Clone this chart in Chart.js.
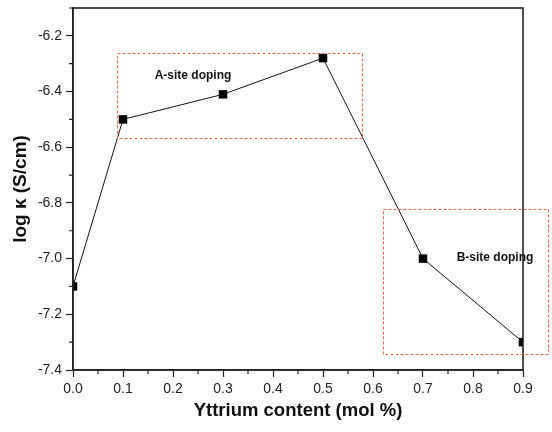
<!DOCTYPE html>
<html>
<head>
<meta charset="utf-8">
<script src="https://cdn.jsdelivr.net/npm/chart.js@4/dist/chart.umd.min.js"></script>
<style>
html,body{margin:0;padding:0;background:#fff;}
#c{display:block;}
</style>
</head>
<body>
<canvas id="c" width="552" height="432"></canvas>
<script>
// Data
const yttrium = [0.0, 0.1, 0.3, 0.5, 0.7, 0.9];
const logK = [-7.10, -6.50, -6.41, -6.28, -7.00, -7.30];
const xTicks = [0.0, 0.1, 0.2, 0.3, 0.4, 0.5, 0.6, 0.7, 0.8, 0.9];
const yTicks = [-7.4, -7.2, -7.0, -6.8, -6.6, -6.4, -6.2];
const xMinor = [0.05, 0.15, 0.25, 0.35, 0.45, 0.55, 0.65, 0.75, 0.85];
const yMinor = [-7.3, -7.1, -6.9, -6.7, -6.5, -6.3, -6.1];
// annotation boxes [x0, x1, y0, y1] in data units
const boxA = [0.088, 0.578, -6.262, -6.566];
const boxB = [0.62, 0.95, -6.821, -7.343];
const labelA = {text: 'A-site doping', x: 0.24, y: -6.343};
const labelB = {text: 'B-site doping', x: 0.844, y: -6.996};

const FONT = '"Liberation Sans", Arial, sans-serif';

const decor = {
  id: 'decor',
  afterDatasetsDraw(chart) {
    const ctx = chart.ctx, xs = chart.scales.x, ys = chart.scales.y, a = chart.chartArea;
    ctx.save();
    // frame
    ctx.strokeStyle = '#222';
    ctx.lineWidth = 1.6;
    ctx.strokeRect(a.left, a.top, a.right - a.left, a.bottom - a.top);
    // minor ticks
    ctx.lineWidth = 1.2;
    ctx.beginPath();
    xMinor.forEach(v => { const p = xs.getPixelForValue(v); ctx.moveTo(p, a.bottom); ctx.lineTo(p, a.bottom + 4); });
    yMinor.forEach(v => { const p = ys.getPixelForValue(v); ctx.moveTo(a.left, p); ctx.lineTo(a.left - 4, p); });
    ctx.stroke();
    // dashed boxes
    ctx.strokeStyle = '#f0644a';
    ctx.lineWidth = 1;
    ctx.setLineDash([3, 2]);
    [boxA, boxB].forEach(b => {
      const x0 = xs.getPixelForValue(b[0]), x1 = xs.getPixelForValue(b[1]);
      const y0 = ys.getPixelForValue(b[2]), y1 = ys.getPixelForValue(b[3]);
      ctx.strokeRect(Math.round(x0) + 0.5, Math.round(y0) + 0.5, Math.round(x1 - x0), Math.round(y1 - y0));
    });
    ctx.setLineDash([]);
    // labels
    ctx.fillStyle = '#111';
    ctx.font = 'bold 12px ' + FONT;
    ctx.textAlign = 'center';
    ctx.textBaseline = 'middle';
    [labelA, labelB].forEach(l => ctx.fillText(l.text, xs.getPixelForValue(l.x), ys.getPixelForValue(l.y)));
    ctx.restore();
  }
};

new Chart(document.getElementById('c'), {
  type: 'line',
  data: {
    datasets: [{
      data: yttrium.map((x, i) => ({x: x, y: logK[i]})),
      borderColor: '#111',
      borderWidth: 1,
      backgroundColor: '#000',
      pointStyle: 'rect',
      pointRadius: 6,
      pointBorderWidth: 0,
      pointBackgroundColor: '#000',
      tension: 0,
      clip: 0
    }]
  },
  options: {
    responsive: false,
    animation: false,
    layout: {padding: {top: 8, right: 29, bottom: 0, left: 0}},
    plugins: {legend: {display: false}, tooltip: {enabled: false}},
    scales: {
      x: {
        type: 'linear',
        min: 0, max: 0.9,
        afterFit: s => { s.height = 62; s.paddingLeft = 0; s.paddingRight = 0; },
        afterBuildTicks: s => { s.ticks = xTicks.map(v => ({value: v})); },
        grid: {drawOnChartArea: false, drawTicks: true, tickLength: 7, color: '#222', tickWidth: 1.2},
        border: {display: true, color: '#222', width: 1.6},
        ticks: {
          color: '#222', font: {family: FONT, size: 14}, padding: 4, maxRotation: 0,
          callback: v => v.toFixed(1)
        },
        title: {display: true, text: 'Yttrium content (mol %)', color: '#111',
          font: {family: FONT, size: 18.5, weight: 'bold'}, padding: {top: 4, bottom: 10}}
      },
      y: {
        type: 'linear',
        min: -7.4, max: -6.1,
        afterFit: s => { s.width = 73; s.paddingTop = 0; s.paddingBottom = 0; },
        afterBuildTicks: s => { s.ticks = yTicks.map(v => ({value: v})); },
        grid: {drawOnChartArea: false, drawTicks: true, tickLength: 7, color: '#222', tickWidth: 1.2},
        border: {display: true, color: '#222', width: 1.6},
        ticks: {
          color: '#222', font: {family: FONT, size: 14}, padding: 4,
          callback: v => v.toFixed(1)
        },
        title: {display: true, text: 'log κ (S/cm)', color: '#111',
          font: {family: FONT, size: 19, weight: 'bold'}, padding: {top: 9, bottom: 4}}
      }
    }
  },
  plugins: [decor]
});
</script>
</body>
</html>
